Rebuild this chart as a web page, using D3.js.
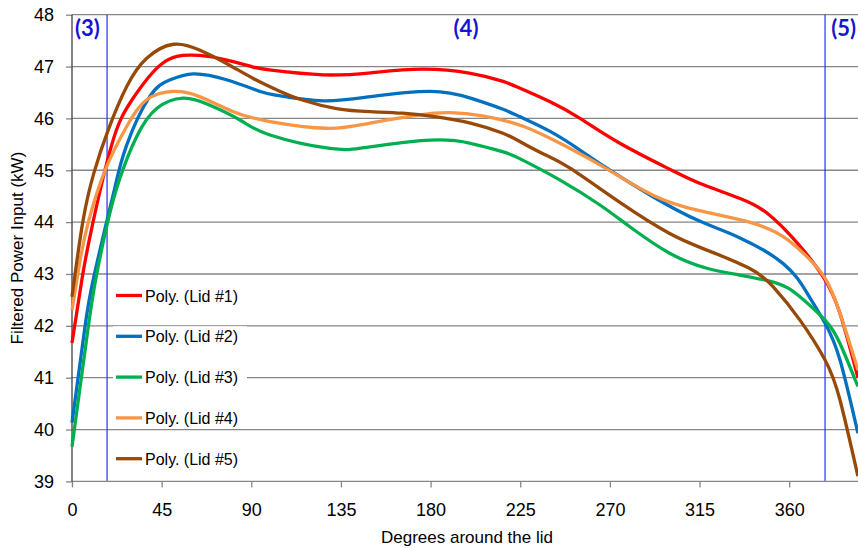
<!DOCTYPE html>
<html>
<head>
<meta charset="utf-8">
<script src="https://cdn.jsdelivr.net/npm/d3@7"></script>
<style>
  html, body { margin: 0; padding: 0; background: #fff; }
  svg { display: block; }
</style>
</head>
<body>
<svg id="chart" width="858" height="548"></svg>
<script>
// ---- Data (degrees, kW) ----
const seriesNames = ["Poly. (Lid #1)", "Poly. (Lid #2)", "Poly. (Lid #3)", "Poly. (Lid #4)", "Poly. (Lid #5)"];
const seriesColors = ["#ff0000", "#0070c0", "#00b050", "#f79646", "#984807"];

const lid1 = [[0,41.67],[5,42.9],[10,43.9],[20,45.5],[30,46.35],[45,47.05],[60,47.22],[75,47.15],[90,47.0],[100,46.93],[126,46.84],[150,46.88],[176,46.95],[200,46.87],[216,46.72],[225,46.58],[240,46.32],[255,46.0],[275,45.52],[301,45.0],[315,44.75],[335,44.46],[349,44.17],[364,43.6],[377,42.95],[385.5,42.24],[394.5,41.0]];
const lid2 = [[0,40.13],[6.5,41.98],[10.7,42.9],[17.6,44.04],[21.6,44.68],[27.4,45.48],[39,46.42],[49,46.74],[61,46.86],[78,46.74],[94.5,46.52],[104,46.44],[126,46.34],[150,46.42],[180,46.52],[200,46.39],[216,46.18],[225,46.03],[240,45.75],[255,45.39],[268.5,45.04],[291.6,44.49],[315,44.02],[335,43.7],[357,43.2],[369,42.63],[378,42.05],[385.5,41.34],[394.5,39.93]];
const lid3 = [[0,39.67],[7.7,41.85],[11.7,42.85],[17.6,43.95],[24,44.84],[32.5,45.65],[42.5,46.19],[55.8,46.39],[69,46.26],[84.3,45.97],[99.4,45.68],[129.5,45.42],[149.6,45.45],[180,45.58],[200,45.52],[216,45.36],[225,45.22],[245,44.81],[265,44.33],[280,43.91],[300,43.4],[318.7,43.11],[335,42.98],[354,42.82],[365.4,42.56],[378,42.11],[385.5,41.66],[394.5,40.83]];
const lid4 = [[0,42.3],[4,43.25],[8.2,44.0],[16.6,45.0],[27.4,45.84],[37.5,46.36],[50.9,46.52],[64,46.42],[81,46.13],[99.4,45.94],[127.8,45.81],[149.6,45.91],[174.7,46.07],[189.7,46.11],[206,46.05],[226.4,45.85],[245,45.52],[266.5,45.07],[291.6,44.52],[315,44.22],[340,44.0],[357,43.72],[369,43.33],[378,42.92],[385.5,42.24],[394.5,41.15]];
const lid5 = [[0,42.56],[5.4,44.0],[11,44.95],[18.2,45.78],[27.4,46.61],[37.5,47.16],[50.9,47.43],[64,47.32],[77.6,47.06],[91,46.77],[104,46.53],[116,46.35],[132.8,46.19],[149.6,46.13],[166,46.1],[183,46.03],[200,45.91],[216,45.72],[225,45.55],[236.4,45.32],[250,45.04],[275,44.38],[300,43.78],[318.7,43.46],[340,43.11],[352,42.75],[365.4,42.11],[378,41.34],[385.5,40.57],[394.5,39.1]];
const seriesData = [lid1, lid2, lid3, lid4, lid5];

const xTicks = [0, 45, 90, 135, 180, 225, 270, 315, 360];
const yTicks = [39, 40, 41, 42, 43, 44, 45, 46, 47, 48];
const zoneLines = [17.6, 378];
const zoneLabels = ["(3)", "(4)", "(5)"];

// ---- Chart ----
const svg = d3.select("#chart");
const x = d3.scaleLinear().domain([0, 400]).range([72, 72 + 400 * 1.9922]);
const y = d3.scaleLinear().domain([39, 48]).range([481.4, 14.7]);
const xMaxPx = 858;

// gridlines
svg.append("g").selectAll("line").data(yTicks.filter(d => d > 39)).join("line")
  .attr("x1", x(0)).attr("x2", xMaxPx)
  .attr("y1", d => y(d)).attr("y2", d => y(d))
  .attr("stroke", "#868686").attr("stroke-width", 1.3);

// zone separators
svg.append("g").selectAll("line").data(zoneLines).join("line")
  .attr("x1", d => x(d)).attr("x2", d => x(d))
  .attr("y1", y(48)).attr("y2", y(39))
  .attr("stroke", "#2a2aff").attr("stroke-width", 1.2);

// zone labels
const zoneLabelPos = [
  {x: x(0) + 3, anchor: "start"},
  {x: 466, anchor: "middle"},
  {x: 856, anchor: "end"}
];
svg.append("g").selectAll("text").data(zoneLabels).join("text")
  .attr("x", (d, i) => zoneLabelPos[i].x)
  .attr("text-anchor", (d, i) => zoneLabelPos[i].anchor)
  .attr("y", 36)
  .attr("font-family", "Lato, 'Open Sans', sans-serif")
  .attr("font-weight", "bold")
  .attr("font-size", 22)
  .attr("fill", "#1414d2")
  .text(d => d);

// axes
const yAxis = svg.append("g").attr("transform", `translate(${x(0)},0)`)
  .call(d3.axisLeft(y).tickValues(yTicks).tickFormat(d3.format("d")).tickSize(6).tickPadding(12));
const xAxis = svg.append("g").attr("transform", `translate(0,${y(39)})`)
  .call(d3.axisBottom(x).tickValues(xTicks).tickFormat(d3.format("d")).tickSize(6).tickPadding(16));
[yAxis, xAxis].forEach(g => {
  g.select(".domain").remove();
  g.selectAll(".tick line").attr("stroke", "#868686").attr("stroke-width", 1.3);
  g.selectAll("text").attr("font-family", "'Liberation Sans', Arial, sans-serif").attr("font-size", 18).attr("fill", "#000");
});
// axis lines
svg.append("line").attr("x1", x(0)).attr("x2", xMaxPx).attr("y1", y(39)).attr("y2", y(39))
  .attr("stroke", "#868686").attr("stroke-width", 1.3);
svg.append("line").attr("x1", x(0)).attr("x2", x(0)).attr("y1", y(48)).attr("y2", y(39))
  .attr("stroke", "#404040").attr("stroke-width", 1.3);

// curves
const line = d3.line().x(d => x(d[0])).y(d => y(d[1])).curve(d3.curveNatural);
svg.append("g").selectAll("path").data(seriesData).join("path")
  .attr("d", line)
  .attr("fill", "none")
  .attr("stroke", (d, i) => seriesColors[i])
  .attr("stroke-width", 3.3)
  .attr("stroke-linejoin", "round");

// legend
const legend = svg.append("g");
const legY0 = 295.5, legDy = 40.8;
seriesNames.forEach((name, i) => {
  const g = legend.append("g").attr("transform", `translate(0,${legY0 + i * legDy})`);
  g.append("rect").attr("x", 113).attr("y", -10).attr("width", 134).attr("height", 20).attr("fill", "#fff");
  g.append("line").attr("x1", 116).attr("x2", 142).attr("y1", 0).attr("y2", 0)
    .attr("stroke", seriesColors[i]).attr("stroke-width", 3.3);
  g.append("text").attr("x", 145).attr("y", 6)
    .attr("font-family", "'Liberation Sans', Arial, sans-serif").attr("font-size", 16)
    .attr("fill", "#000").text(name);
});

// axis titles
svg.append("text").attr("x", 467).attr("y", 543).attr("text-anchor", "middle")
  .attr("font-family", "'Liberation Sans', Arial, sans-serif").attr("font-size", 17)
  .text("Degrees around the lid");
svg.append("text").attr("transform", `translate(23,${(y(48) + y(39)) / 2}) rotate(-90)`)
  .attr("text-anchor", "middle")
  .attr("font-family", "'Liberation Sans', Arial, sans-serif").attr("font-size", 17)
  .text("Filtered Power Input (kW)");
</script>
</body>
</html>
